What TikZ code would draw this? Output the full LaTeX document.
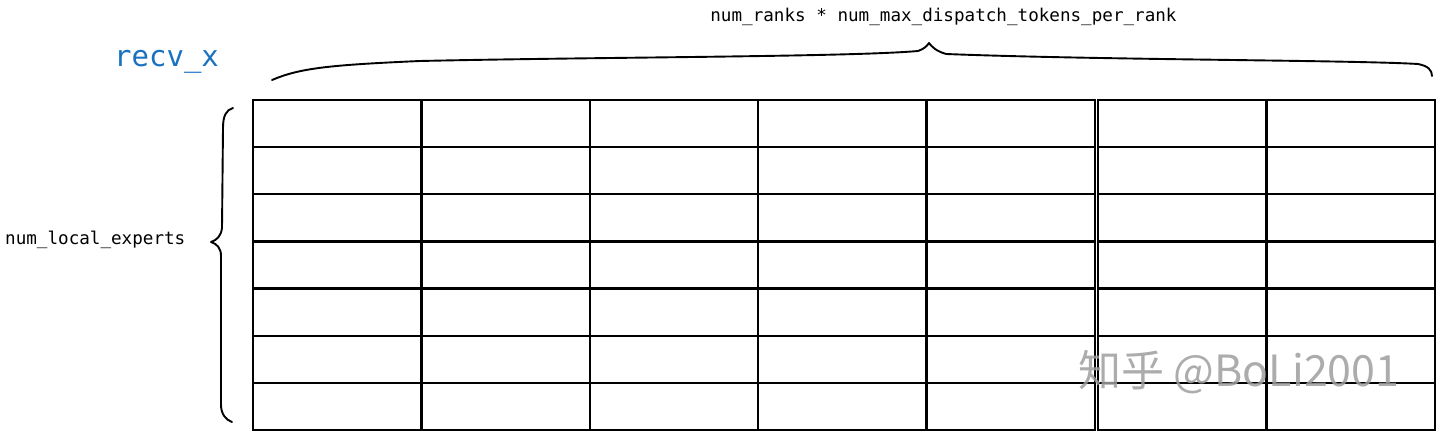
\documentclass[tikz,border=0pt]{standalone}
\usepackage{fontspec}
\setmonofont{DejaVu Sans Mono}
\newfontfamily\cjkfont{Noto Sans CJK SC}
\definecolor{exblue}{HTML}{1971C2}
\tikzset{
  cellbox/.style={draw=black, line width=2.3pt, inner sep=0pt, minimum height=47.14pt},
  bracepath/.style={draw=black, line width=1.9pt, line cap=round, line join=round},
  lbl/.style={font=\ttfamily\fontsize{17.6}{20}\selectfont, inner sep=0pt},
  title/.style={font=\ttfamily\fontsize{29}{32}\selectfont, text=exblue, inner sep=0pt},
  wmark/.style={font=\cjkfont\fontsize{43}{46}\selectfont, text=black!38, opacity=0.85, inner sep=0pt}
}
\begin{document}
\begin{tikzpicture}[x=1pt,y=-1pt]
\useasboundingbox (0,0) rectangle (1440,435);
% cells: left group (5 columns) and right group (2 columns)
\foreach \r in {1,...,7}{
  \foreach \c in {1,...,5}{
    \pgfmathsetmacro{\cx}{253+168.4*(\c-1)+84.2}
    \pgfmathsetmacro{\cy}{100+47.14*(\r-1)+23.57}
    \node[cellbox, minimum width=168.4pt] (a-\r-\c) at (\cx,\cy) {};
  }
  \foreach \c in {1,2}{
    \pgfmathsetmacro{\cx}{1098+168.5*(\c-1)+84.25}
    \pgfmathsetmacro{\cy}{100+47.14*(\r-1)+23.57}
    \node[cellbox, minimum width=168.5pt] (b-\r-\c) at (\cx,\cy) {};
  }
}
% top brace
\draw[bracepath] (272,80) .. controls (300,68) and (330,65) .. (420,61)
  .. controls (600,57) and (850,57) .. (918,51)
  .. controls (924,49) and (927,46) .. (929,43)
  .. controls (932,47) and (936,51) .. (946,54)
  .. controls (1100,60) and (1350,60) .. (1418,64)
  .. controls (1428,66) and (1432,70) .. (1432,76);
% left brace
\draw[bracepath] (233,108) .. controls (226,110) and (223,116) .. (223,128)
  -- (222,228)
  .. controls (221,236) and (217,240) .. (211,242)
  .. controls (217,244) and (221,248) .. (221,256)
  -- (221,405)
  .. controls (221,414) and (226,420) .. (232,422);
% labels
\node[lbl, anchor=center] (top) at (943.5,17) {num\_ranks * num\_max\_dispatch\_tokens\_per\_rank};
\node[lbl, anchor=west] (left) at (5,240) {num\_local\_experts};
\node[title, anchor=west] (recv) at (114,62) {recv\_x};
\node[wmark, anchor=west] (wm) at (1078,372) {知乎 @BoLi2001};
\end{tikzpicture}
\end{document}
